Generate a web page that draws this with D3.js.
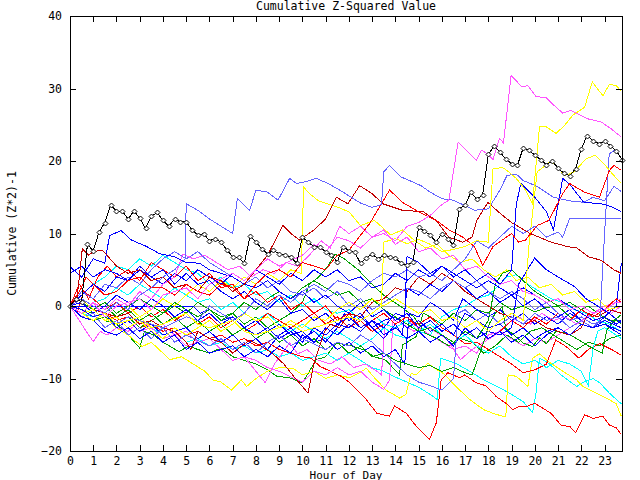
<!DOCTYPE html>
<html>
<head>
<meta charset="utf-8">
<script src="https://cdn.jsdelivr.net/npm/d3@7/dist/d3.min.js"></script>
<style>
  body { margin: 0; background: #fff; }
  text { font-family: "DejaVu Sans Mono", monospace; font-size: 11.5px; fill: #000; }
</style>
</head>
<body>
<div id="chart"></div>
<script>
// hour ticks and value ticks
var hourTicks = [0,1,2,3,4,5,6,7,8,9,10,11,12,13,14,15,16,17,18,19,20,21,22,23];
var valueTicks = [-20,-10,0,10,20,30,40];

// the marked station, one value every 15 minutes from 00:00
var blackValues = [0,1.0,0.6,8.5,7.6,10.2,11.5,13.9,13.1,13.1,12.0,13.1,12.1,10.7,12.4,12.9,
  11.8,11.0,12.0,11.6,11.6,10.5,9.8,10.0,9.0,9.3,8.8,7.7,6.8,6.7,5.9,9.7,
  8.8,7.9,7.2,7.7,7.2,7.0,6.8,5.9,9.5,8.8,8.2,8.1,7.5,7.0,6.1,8.2,
  7.6,7.4,5.9,6.6,7.2,6.5,7.0,6.8,6.6,5.9,5.6,6.1,10.9,10.3,9.8,8.8,
  10.0,9.3,8.4,13.4,13.9,15.7,14.7,15.3,20.9,22.1,21.2,20.3,19.6,19.4,21.8,21.5,
  20.8,20.2,19.5,20.0,19.0,18.3,18.0,18.9,21.7,23.5,22.8,22.4,22.7,22.1,21.4,20.2];

// other stations as [hour, value]
var magentaHigh = [[0,0],[0.5,-1],[1,0.5],[1.5,-1.5],[2,0],[3,1],[3.5,-0.5],[4,1.5],[5,2.5],[5.5,1],[6,3],[7,4.5],[7.5,3.5],[8,5],[8.5,6.5],[9,5.5],[10,7],[10.5,8.5],[11,7.5],[11.5,9.5],[12,9],[12.5,8],[13,9.5],[13.5,10],[14,9],[14.5,11],[15,11.5],[15.5,12.5],[16,14],[16.3,14.6],[16.7,22.6],[17.1,21.3],[17.48,20.1],[17.7,21.5],[17.95,21],[18.2,20.2],[18.48,23.1],[18.65,22.5],[18.81,27],[18.98,31.8],[19.45,30.2],[19.7,30.4],[20.05,28.9],[20.5,28.7],[20.85,27.6],[21.2,26.6],[21.55,27],[21.85,26.5],[22.3,25.8],[22.85,25.4],[23.3,24.4],[23.72,23.3]];
var yellowHigh = [[0,0],[0.5,-1],[1,-2],[1.5,-1],[2,-2.5],[3,-1.5],[3.5,-3],[4,-2.5],[5,-1],[5.5,-2.5],[6,-3],[7,-2],[7.5,-3.5],[8,-4],[9,-3],[9.5,-2.5],[10,-3.5],[11,-2.5],[12,-1.5],[12.5,-2],[13,-1],[13.4,0],[13.5,8.8],[14,9.3],[14.5,8.6],[15,9.2],[15.5,8.5],[16,7.5],[16.5,7.8],[17,8.2],[17.5,9],[18,8.8],[18.2,18.9],[18.6,19.1],[18.8,18.7],[19.2,17.6],[19.6,16],[19.9,14.1],[20.2,24.7],[20.5,24.7],[20.92,23.8],[21.3,25],[21.63,26.3],[22.14,27.4],[22.47,30.9],[22.93,29],[23.21,30.6],[23.5,30.4],[23.72,29.6]];
var redHigh = [[0,0],[0.4,2],[0.7,4],[1,3],[1.5,1.5],[2,2],[2.5,3.5],[3,4],[3.5,2.5],[4,2.5],[4.5,1.5],[5,3],[5.5,2],[6,1.5],[6.5,3],[7,2.5],[7.5,1],[8,3],[8.5,4.5],[9,5],[9.5,4],[10,6],[10.5,5.5],[11,5],[11.5,7],[12,7.7],[12.9,11.4],[13.75,16],[14.3,14.3],[15,13],[15.76,11.8],[16.3,10.5],[16.9,9.5],[17.4,8.2],[17.76,5.6],[18.2,8.2],[18.6,9.1],[19,10],[19.3,8.8],[19.6,9.1],[20.1,11.1],[20.6,11.8],[21.2,15.5],[21.5,16.9],[21.8,16.3],[22.14,15.7],[22.78,15],[23.21,18.7],[23.4,19.4],[23.72,18.7]];
var darkRedHigh = [[0,0],[0.3,1],[0.53,7.9],[0.8,7],[1,7.5],[1.4,7.7],[2,5.5],[2.5,4.5],[3,5],[3.5,3.5],[4,4],[4.5,2.5],[5,3],[5.5,2],[6,4],[6.5,3.5],[7,2],[7.5,3],[8,5],[8.5,7],[9.16,11.1],[9.5,10],[9.88,9.1],[10.5,10.5],[11,12],[11.46,15],[11.96,14.1],[12.46,16.6],[13,15.5],[13.46,14.1],[14.3,13.2],[15.2,13],[15.76,11.8],[16.3,9.5],[16.9,8.8],[17.3,9.5],[17.5,11.8],[17.98,14.3],[18.5,12.8],[19,11.5],[19.8,10],[20.7,8.8],[21.4,8.2],[21.8,8],[22.3,6.8],[22.86,6.3],[23.4,5],[23.72,4.5]];
var lightBlueHigh = [[0,0],[0.5,1],[1,0],[1.5,-1],[2,0.5],[2.5,-0.5],[3,1.5],[3.5,2.5],[4,4],[4.5,5],[4.95,6.5],[5.0,14.1],[5.5,13.2],[6,12],[6.5,11],[7,10],[7.2,14.8],[7.73,13.2],[8,16],[8.5,15.7],[8.95,14.6],[9.45,17.6],[9.74,16.9],[10.2,17.2],[10.6,17.6],[11.1,16.9],[11.6,16],[12,15.2],[12.5,14.2],[13,13.6],[13.4,14],[13.5,18.5],[13.75,19.4],[14.25,17.8],[15.1,16.6],[15.5,15.7],[16,14.8],[16.5,14.6],[17.4,13.2],[18,13.4],[18.5,16],[18.8,18],[19.2,18.2],[19.5,17.3],[20.1,16.5],[20.8,15],[21.5,14.5],[22.1,14.3],[22.5,15],[23,14.5],[23.4,16.5],[23.72,15.8]];
var lightBlueFlat = [[0,0],[0.5,-1],[1,-2],[1.5,-1],[2,-2.5],[2.5,-1.5],[3,-2],[4,-3],[5,-1.5],[5.5,-2],[6,0],[6.5,-1],[7,-2],[7.5,-1],[8,1],[8.5,0],[9,1.5],[9.5,0.5],[10,2],[10.5,3],[11,2],[11.5,3.5],[12,3],[12.5,2],[13,3.5],[13.5,4.5],[14,4],[14.5,5],[15,4],[15.5,4.5],[16,3.5],[16.5,5],[17,6.5],[17.5,9],[18,8],[18.5,9.5],[19,11],[19.5,10],[20,11],[20.5,9.5],[21,10.2],[21.2,9.5],[21.5,12.1],[23.72,12.1]];
var blueEnd13 = [[0,0],[0.5,-1.5],[1,-2],[1.5,-3.5],[2,-4],[2.5,-3],[3,-4.5],[3.5,-3.5],[4,-5],[4.5,-4],[5,-6],[5.5,-5],[6,-6.5],[7,-5.5],[7.5,-7],[8,-6],[8.5,-7],[9,-5.5],[9.5,-6.5],[10,-4],[10.5,-5],[11,-3],[11.5,-4],[12,-2.5],[12.5,-3.5],[13,-2],[13.5,-3],[14,-1],[14.4,-1.5],[14.5,6.8],[15,6],[15.5,4.5],[16,5.5],[16.5,4],[17,5],[17.5,3.5],[18,4.5],[18.5,3],[19,5],[19.2,14],[19.4,16.9],[20,15],[20.5,13],[20.8,10.5],[21,14],[21.2,17.6],[21.5,16.8],[22.1,14.3],[22.86,14.1],[23.3,13.7],[23.72,13]];
var blueEarly = [[0,5.4],[0.5,4],[1,6.5],[1.5,5.9],[1.7,9.7],[2.2,10.4],[2.64,9.1],[3.3,8.2],[3.86,7.2],[4.5,6.8],[5,6],[5.58,5.9],[6,5],[6.5,4.5],[7,4],[7.5,3],[8,2.5],[8.5,3.5],[9,2],[9.5,1],[10,2],[10.5,0.5],[11,1.5],[11.5,0],[12,-1],[12.5,0.5],[13,-1.5],[13.5,-0.5],[14,-2],[14.5,-1],[15,-3],[15.5,-2],[16,-3.5],[16.5,-2.5],[17,-4],[17.5,-3],[18,-4.5],[18.5,-3.5],[19,-5],[19.5,-4],[20,-5.5],[20.5,-4],[21,-3],[21.5,-4],[22,-2.5],[22.5,-3],[23,-2],[23.72,-3]];
var blueStart45 = [[0,4.5],[0.5,5.5],[1,4],[1.5,5],[2,4.5],[2.5,3.5],[3,5.5],[3.5,4],[4,5],[4.5,3],[5,4.5],[5.5,3],[6,3.5],[6.5,2],[7,1],[7.5,2],[8,0.5],[8.5,-0.5],[9,1],[9.5,-1],[10,-0.5],[10.5,-2],[11,-1],[11.5,-2.5],[12,-1.5],[12.5,-3],[13,-2],[13.5,-4],[14,-3],[14.5,-4.5],[15,-3.5],[15.5,-5],[16,-4],[16.5,-5.5],[17,-3],[17.5,-4.5],[18,-3.5],[18.5,-4],[19,-3],[19.3,3],[19.99,6.6],[20.5,5],[21,4],[21.7,2.7],[22.2,1],[22.7,0],[23.2,-1],[23.72,-2.4]];
var lightBlueLate = [[0,0],[0.5,-1.5],[1,-1],[1.5,-3],[2,-2],[2.5,-4],[3,-3],[3.5,-4.5],[4,-3],[4.5,-5],[5,-4],[6,-5.5],[6.5,-4.5],[7,-6],[7.5,-5],[8,-6.5],[8.5,-5],[9,-4],[9.5,-5.5],[10,-4.5],[11,-6],[11.5,-5],[12,-5.5],[12.5,-4],[13,-5],[13.5,-6.5],[14,-8],[14.5,-9.5],[15,-10.5],[15.5,-11],[16,-11.6],[16.5,-10],[16.7,-1],[17,-0.5],[17.5,-2],[18,-1],[18.5,-2.5],[19,-1.5],[19.5,-2.5],[20,-1],[20.5,-2],[21,-1.5],[21.5,-3],[22,-2],[22.5,-3],[22.8,-2],[23.0,10],[23.2,21],[23.45,21.5],[23.72,20.5]];
var blueRiseEnd = [[0,0],[0.5,-0.5],[1,-1.5],[1.5,-1],[2,-3],[2.5,-2],[3,-3.5],[3.5,-2.5],[4,-4],[5,-3],[5.5,-4.5],[6,-3.5],[6.5,-5],[7,-4],[7.5,-5.5],[8,-4.5],[8.5,-6],[9,-4],[9.5,-3],[10,-4.5],[10.5,-3.5],[11,-5],[11.5,-3],[11.8,-1],[12,-2],[12.5,-1],[13,-3],[13.5,-2],[14,-1.5],[14.5,-3],[15,-2],[15.5,-3.5],[16,-2.5],[16.5,-4],[17,-1],[17.5,-2],[18,-3],[18.5,-2.5],[19,-4],[19.5,-3],[20,-4.5],[20.5,-3.5],[21,-3],[21.5,-4],[22,-2.5],[22.5,-3],[23,-1.5],[23.5,0],[23.72,5.9]];
var yellowLate = [[0,0],[0.5,-1],[1,-0.5],[1.5,-2],[2,-1.5],[2.5,-3],[3,-2],[3.5,-3.5],[4,-4.5],[4.5,-3],[5,-4],[5.5,-3],[6,-2],[6.5,-3.5],[7,-2.5],[7.5,-1],[8,-2],[8.5,-1.5],[9,-3],[9.5,-2],[10,-3],[10.5,-1.5],[11,-2],[11.5,-0.5],[12,0.5],[12.5,-0.5],[13,1],[13.5,0],[14,1],[14.5,0],[15,-1],[15.5,-0.5],[16,-2],[16.5,-1.5],[17,-3],[17.5,-2],[18,-3.5],[18.5,-2],[19,-1],[19.5,-2],[19.75,8.5],[20.1,18.5],[20.7,20],[21.3,18],[21.7,18.5],[22.2,20.3],[22.6,20.8],[23,19.5],[23.4,18],[23.72,16.9]];
var yellowMid = [[0,0],[0.5,1],[1,-0.5],[1.5,0.5],[2,-1],[2.5,0],[3,-1.5],[3.5,-0.5],[4,1],[4.5,0],[5,1.5],[5.5,3],[6,2],[6.5,3.5],[7,2.5],[7.5,4],[8,3],[8.5,4.5],[9,3.5],[9.5,5],[9.95,4.5],[10.05,16.4],[10.3,15.5],[10.7,14.5],[11.46,13.7],[12,13],[12.5,11.1],[13.1,11.8],[13.8,9.8],[14.3,10.5],[14.8,9.1],[15.3,8],[15.8,8.5],[16.3,7],[16.8,6],[17.3,6.5],[17.8,5],[18.3,4],[18.8,5],[19.2,3.5],[19.7,4],[20.2,2.5],[20.7,3],[21.2,1.5],[21.7,2],[22.2,0.5],[22.7,1],[23.2,-0.5],[23.72,0]];
var magentaMid = [[0,0],[0.5,-1],[1,0.5],[1.5,-0.5],[2,1],[2.5,0],[3,2],[3.5,1],[4,3],[4.5,4],[4.86,7.2],[5.3,6.5],[5.8,7],[6.3,6],[6.8,5],[7.3,5.5],[7.8,4],[8.3,5],[8.8,4.5],[9.3,6],[9.8,5.5],[10.3,7],[10.8,9],[11.2,8],[11.6,11],[12,10],[12.5,11],[13,9.5],[13.5,10.5],[14,8.5],[14.5,9.5],[15,7.5],[15.5,8],[16,6.5],[16.5,7],[17,5],[17.5,5.5],[18,4],[18.5,3],[19,3.5],[19.5,2],[20,1.5],[20.5,0.5],[21,1],[21.5,-0.5],[22,0],[22.5,-1],[23,-0.5],[23.5,0.5],[23.72,0.4]];
var redLow = [[0,0],[0.5,-0.5],[1,-1.5],[1.5,-1],[2,-2],[2.5,-1.5],[3,-3],[3.5,-2.5],[4,-3.5],[4.5,-3],[5,-4],[5.5,-3.5],[6,-4.5],[6.5,-4],[7,-5],[7.5,-4.5],[8,-5.5],[8.5,-5],[9,-6],[9.5,-6.5],[10,-7],[10.38,-7.2],[10.74,-8.3],[11.2,-9],[11.67,-9.7],[12.04,-10.6],[12.75,-12.9],[13.2,-14.8],[13.75,-15.2],[13.97,-13.8],[14.47,-14.8],[14.9,-16.6],[15.47,-18.4],[15.76,-16.1],[15.97,-10.2],[16.26,-9.2],[16.76,-9.9],[16.98,-9.5],[17.48,-10.6],[17.9,-11],[18.34,-12.5],[18.84,-13.6],[19.05,-14.3],[19.34,-13.8],[19.63,-13.9],[19.99,-13.4],[20.34,-14.1],[20.7,-14.8],[21.14,-16.5],[21.5,-16.6],[21.76,-17.5],[22.14,-15],[22.5,-15.5],[22.93,-15.2],[23.2,-16.4],[23.5,-16.8],[23.72,-17.7]];
var yellowLow = [[0,0],[0.5,-1],[1,-2],[1.5,-1.5],[2,-3],[2.5,-4],[3.1,-5.6],[3.5,-5],[4,-6.5],[4.3,-7.4],[4.8,-7],[5.3,-8],[5.8,-9],[6.15,-10.2],[6.5,-10.5],[6.95,-11.6],[7.37,-10.2],[7.6,-11.1],[8,-10],[8.5,-9],[9,-8.5],[9.6,-8.6],[10,-9.5],[10.5,-9],[11,-10],[11.5,-9.5],[12.04,-9.9],[12.4,-9.3],[12.75,-8.6],[13.1,-9.9],[13.6,-11.6],[14.18,-12.7],[14.45,-12.2],[14.68,-9.3],[14.9,-9.5],[15.4,-7.9],[15.7,-8.6],[16.1,-9.4],[16.6,-11.1],[17.2,-12.9],[17.8,-14.3],[18.2,-14.8],[18.6,-15.2],[18.75,-15.3],[18.85,-9.5],[19.2,-9.7],[19.7,-11.1],[19.9,-7.2],[20.2,-6.6],[20.6,-7.7],[21.2,-9],[21.8,-10.2],[22.07,-11.1],[22.64,-12],[23.2,-12.9],[23.5,-13.5],[23.72,-15.2]];
var cyanLow = [[0,0],[0.5,-1],[1,-1.5],[1.5,-1],[2,-2.5],[2.5,-2],[3,-3.5],[3.5,-3],[4,-4],[4.5,-3.5],[5,-5],[5.5,-4.5],[6,-5.5],[6.5,-5],[7,-6],[7.5,-5.5],[8,-6.5],[8.5,-6],[9,-7],[9.5,-6.5],[10,-7.5],[10.5,-7],[11,-6.5],[11.5,-7.5],[12,-6.5],[12.5,-7.5],[13,-8.5],[13.5,-9],[14,-9.8],[14.5,-10.5],[15,-11.2],[15.5,-12.2],[15.8,-12.9],[15.95,-7.2],[16.6,-7.9],[17.2,-9],[17.8,-10.2],[18.5,-11.3],[18.9,-12],[19.5,-13.2],[19.9,-14.7],[20.05,-12],[20.2,-7.2],[20.6,-7.9],[21.2,-9.7],[21.8,-11.1],[22.1,-10.5],[22.5,-10],[22.8,-10.6],[23.2,-12],[23.72,-13.5]];
var redEnd7 = [[0,0],[0.3,-1],[0.6,2],[1,1],[1.5,-0.5],[2,0.5],[2.5,-1],[3,0],[3.5,-1.5],[4,-0.5],[4.5,-2],[5,-1],[5.5,-2.5],[6,-1.5],[6.5,-3],[7,-2],[7.5,-3.5],[8,-2.5],[8.5,-1],[9,-2],[9.5,-3],[10,-2],[10.5,-1],[11,-2.5],[11.5,-1.5],[12,-3],[12.5,-2],[13,-3.5],[13.5,-2.5],[14,-3],[14.5,-2],[15,-2.5],[15.5,-1.5],[16,-3],[16.5,-4],[17,-5.2],[17.5,-5],[18,-6],[18.5,-7],[19,-8],[19.5,-9.2],[20,-8.8],[20.5,-8],[20.9,-4.7],[21.35,-5.6],[21.9,-7.2],[22.3,-6],[22.8,-5.2],[23.3,-6],[23.72,-6.8]];
var greenLate = [[0,0],[0.5,-0.5],[1,-1],[1.5,0],[2,-1.5],[2.5,-0.5],[3,-2],[3.5,-1],[4,-2.5],[4.5,-1.5],[5,-3],[5.5,-2],[6,-3.5],[6.5,-2.5],[7,-4],[7.5,-3],[8,-4.5],[8.5,-3.5],[9,-5],[9.5,-4],[10,-5.5],[10.5,-4.5],[11,-6],[11.5,-5],[12,-6.5],[12.5,-5.5],[13,-7],[13.5,-6.5],[14,-7.5],[14.5,-8],[15,-8.5],[15.5,-8.2],[16,-9],[16.5,-8.5],[17,-9.2],[17.3,-9.5],[17.8,-5],[18.05,-2.4],[18.3,-1],[18.6,-0.1],[18.75,-3.1],[19.1,-4],[19.5,-5.1],[19.9,-5.6],[20.2,-4.4],[20.5,-5.2],[20.9,-3.5],[21.4,-3.8],[21.8,-4.5],[22.3,-5.5],[22.9,-6.5],[23.1,-3.3],[23.4,-2],[23.72,-1.2]];
var greenLow = [[0,0],[0.5,-1],[1,-0.5],[1.5,-2],[2,-2.5],[2.5,-4],[3,-5.8],[3.2,-3.5],[3.6,-4],[4,-5],[4.7,-6.3],[5.1,-5.5],[5.5,-6],[6,-6.5],[6.5,-5.8],[7,-7],[7.5,-7.5],[8,-8],[8.5,-8.8],[8.9,-9.7],[9.45,-9.9],[10,-10.6],[10.6,-7.4],[11,-7],[11.46,-5.1],[12,-5.4],[12.6,-6],[13.1,-7],[13.6,-7.5],[14.18,-9.5],[14.3,-5.4],[14.9,-4.2],[15.2,-1],[15.5,-1.5],[16,-2.5],[16.5,-1],[17,-2],[17.5,-0.5],[18,-1],[18.5,0.5],[19,-0.5],[19.5,0],[20,-0.8],[20.5,-0.2],[21,0],[21.5,-1.5],[22,-2.5],[22.5,-3],[23,-2.5],[23.5,-2],[23.72,-2.5]];
var cyanEarly = [[0,0],[0.5,1.5],[1,3],[1.5,4],[2,5.5],[2.5,5],[3,6.5],[3.5,5.5],[4,7],[4.5,6],[5,5],[5.5,4.5],[6,3],[6.5,4],[7,2.5],[7.5,3],[8,1.5],[8.5,2],[9,0.5],[9.5,1.5],[10,0],[10.5,1],[11,-0.5],[11.5,-1],[12,-0.5],[12.5,-2],[13,-1],[13.5,-2.5],[14,-3],[14.5,-2],[15,-3.5],[15.5,-2.5],[16,-4],[16.5,-5],[17,-4],[17.5,-5.5],[18,-6.5],[18.5,-5.5],[19,-7],[19.5,-8],[20,-7.5],[20.5,-8.5],[21,-7.5],[21.5,-8],[22,-9],[22.3,-11],[22.5,-6],[22.7,-3.5],[23,-3],[23.5,-4],[23.72,-4.5]];
var cyanMid = [[0,0],[0.5,-1],[1,0.5],[1.5,1],[2,2.5],[2.5,1.5],[3,3],[3.5,2],[4,1],[4.5,2.5],[5,1.5],[5.5,0.5],[6,1],[6.5,-0.5],[7,0.5],[7.5,-1],[8,-2],[8.5,-1],[9,-2.5],[9.5,-3.5],[10,-2.5],[10.5,-3.5],[11,-4.5],[11.5,-3.5],[12,-4.5],[12.5,-5.5],[13,-4.5],[13.5,-3],[14,-4],[14.5,-4.5],[15,-3.5],[15.5,-4],[16,-1.5],[16.5,-0.5],[17,0],[17.5,1],[18,1.5],[18.5,3],[18.8,4],[19.2,4.3],[19.7,3],[20.2,2],[20.7,1],[21.2,0.5],[21.7,-0.5],[22.2,-1],[22.7,-2],[23.2,-2.5],[23.72,-3.5]];
var magentaLow = [[0,0],[0.3,-1.5],[0.7,-3.5],[1,-4.9],[1.3,-3.5],[1.6,-4],[2,-3],[2.5,-3.5],[3,-2],[3.5,-3],[4,-2.5],[4.5,-4],[5,-3.5],[5.5,-5],[6,-4.5],[6.5,-6],[7,-5.5],[7.5,-7],[8,-7.5],[8.5,-8.5],[9,-9],[9.5,-9.8],[10,-10.5],[10.5,-9],[11,-9.5],[11.5,-8.5],[12,-9.5],[12.5,-9],[13,-10.5],[13.5,-11.5],[13.75,-10.2],[13.9,-1.9],[14.3,-2.5],[14.8,-3.5],[15.2,-2.5],[15.7,-3.5],[16.2,-4.5],[16.8,-7.4],[17.3,-6],[17.8,-5],[18.3,-4],[18.8,-2.5],[19.3,-1.5],[19.8,-2.5],[20.3,-1],[20.8,-2],[21.3,-1.5],[21.8,-2.5],[22.3,-1.5],[22.8,-0.5],[23.3,-1],[23.72,0]];
var magentaLow2 = [[0,0],[0.5,-0.5],[1,-1.5],[1.5,-1],[2,-2.5],[2.5,-2],[3,-3.5],[3.5,-3],[4,-4.5],[4.5,-4],[5,-5.5],[5.5,-5],[6,-6.5],[6.5,-6],[7,-7.5],[7.5,-7],[8,-9],[8.4,-10.6],[8.8,-8],[9.45,-5.1],[9.8,-6.6],[10.2,-6],[10.7,-7.5],[11.2,-8],[11.7,-7],[12.2,-8.5],[12.7,-8],[13.2,-9],[13.4,-9.5],[13.55,-2.5],[14,-3],[14.5,-2],[15,-3],[15.5,-4],[16,-5],[16.5,-6],[17,-5.5],[17.5,-6.5],[18,-4],[18.5,-3.5],[19,-4.5],[19.5,-5.5],[20,-4.5],[20.5,-5],[21,-4],[21.5,-3],[22,-2],[22.5,-1],[23,0],[23.5,0.5],[23.72,1]];
var blueFlatStart = [[0,0],[5.3,0],[5.6,-1],[6,-0.5],[6.5,-2],[7,-1.5],[7.5,-3],[8,-2],[8.5,-3.5],[9,-2.5],[9.5,-4],[10,-3.5],[10.5,-5],[11,-4.5],[11.5,-6],[12,-5],[12.5,-6.5],[13,-5.5],[13.5,-7],[14,-6],[14.4,-8],[14.6,-1],[15,-1.5],[15.5,0.5],[16,-0.5],[16.5,-2],[16.9,1],[17.5,-0.5],[18,-1.5],[18.5,-0.5],[19,-2],[19.5,-1],[20,-2.5],[20.5,-1.5],[21,-2.5],[21.5,-1],[22,-2],[22.5,-3],[23,-2.5],[23.72,-4]];
var darkRedMid = [[0,0],[0.5,1],[1,-0.5],[1.5,-1],[2,-1.5],[2.5,-1],[3,-2.5],[3.5,-2],[4,-3],[4.5,-3.5],[5,-5],[5.2,-6],[5.5,-3.5],[6,-4.5],[6.5,-5],[7,-6.5],[7.4,-5.5],[7.73,-4.7],[8.2,-5.5],[8.7,-6.5],[9.2,-8],[9.7,-10],[10.24,-12],[10.5,-7.9],[10.95,-3.5],[11.2,-2.5],[11.6,-3],[12,-1],[12.5,-1.5],[13,0.5],[13.5,1],[14,2.5],[14.5,2],[15,4],[15.5,3],[16,4.5],[16.5,3.5],[17,2],[17.5,1],[18,0],[18.5,-1],[19,-1.5],[19.5,-2.5],[20,-2],[20.5,-3],[21,-3.5],[21.5,-4],[22,-3],[22.3,-1],[22.7,-1.5],[23.2,-0.5],[23.72,-1]];
var redMid = [[0,0],[0.4,3],[0.8,1],[1.2,4],[1.6,5.5],[2,4],[2.5,5],[3,3.5],[3.5,6],[4,5],[4.5,4],[5,5.5],[5.5,3.5],[6,4.5],[6.5,2.5],[7,3],[7.5,1],[8,2],[8.5,0.5],[9,1.5],[9.5,-0.5],[10,0.5],[10.5,-1],[11,0],[11.5,-2],[12,-1],[12.5,-3],[13,-2],[13.5,-1],[14,-2.5],[14.5,-1.5],[15,-3],[15.5,-2],[16,-3.5],[16.5,-2.5],[17,-4],[17.5,-3],[18,-4.5],[18.5,-3.5],[19,-2],[19.5,-3],[20,-1.5],[20.5,-2.5],[21,-1],[21.5,-2],[22,-0.5],[22.5,-1.5],[23,-0.5],[23.5,1],[23.72,0.5]];
var greenMid = [[0,0],[0.5,-1],[1,-2],[1.5,-1.5],[2,-2.5],[2.5,-1.5],[3,-3],[3.5,-2],[4,-1],[4.5,0],[5,-1],[5.5,0.5],[6,-0.5],[6.5,-1.5],[7,-1],[7.5,-2.5],[8,-1.5],[8.5,-3],[9,-2],[9.5,-1],[10,0.5],[10.3,3],[10.7,4],[11.1,5.5],[11.4,7.2],[11.8,6.5],[12.4,5],[12.96,3.1],[13.5,1.5],[14.25,-0.1],[14.8,-1.5],[15.3,-3.8],[15.8,-4.5],[16.3,-5.5],[16.8,-4.5],[17.3,-5],[17.8,-6.5],[18.3,-5.5],[18.8,-4],[19.3,-5],[19.8,-3.5],[20.3,-3],[20.8,-4],[21.3,-5],[21.8,-6],[22.3,-5],[22.8,-5.5],[23.2,-4.5],[23.72,-4]];
var greenUpper = [[0,0],[0.5,0.5],[1,-0.5],[1.5,0.5],[2,-1],[2.5,0],[3,1],[3.5,0],[4,-1],[4.5,0.5],[5,-0.5],[5.5,-1.5],[6,-0.5],[6.5,-2],[7,-1],[7.5,0.5],[8,-0.5],[8.5,1],[9,2],[9.5,1],[10,2.5],[10.5,3.5],[11,2.5],[11.5,1.5],[12,2],[12.5,0.5],[13,1],[13.5,-0.5],[14,-1.5],[14.5,-2.5],[15,-3.5],[15.5,-3],[16,-4],[16.5,-5],[17,-3.5],[17.5,-4.5],[18,-2],[18.3,3],[18.6,4.5],[19,5],[19.5,3.5],[20,2],[20.5,1],[21,0],[21.5,0.5],[22,-0.5],[22.3,0],[22.7,-1],[23.2,-2],[23.72,-2]];
var blueMid = [[0,0],[0.5,0.5],[1,-1],[1.5,0],[2,1.5],[2.5,0.5],[3,-0.5],[3.5,1],[4,0],[4.5,-1.5],[5,-0.5],[5.5,-2],[6,-1],[6.5,-2.5],[7,-1.5],[7.5,-3],[8,-4],[8.5,-3],[9,-4.5],[9.5,-3.5],[10,-5],[10.5,-3],[11,-4],[11.5,-2.5],[12,-3],[12.5,-1.5],[13,-3],[13.5,-4.5],[14,-2.5],[14.3,-4],[14.5,2.5],[15,1.5],[15.5,3],[16,2],[16.5,3.5],[17,2.5],[17.5,1],[18,2],[18.5,0.5],[19,1.5],[19.5,0],[20,1],[20.5,-0.5],[21,-1.5],[21.5,-0.5],[22,-2],[22.5,-3],[23,-2.5],[23.72,-3.5]];
var blueUpperMid = [[0,0],[0.5,1.5],[1,3],[1.5,2],[2,4],[2.5,3.5],[3,5],[3.5,4],[4,3],[4.5,4.5],[5,3.5],[5.5,5],[6,4],[6.5,3],[7,4.5],[7.5,3.5],[8,5],[8.5,4],[9,3],[9.5,4.5],[10,3.5],[10.5,5],[11,4],[11.5,5],[12,3.5],[12.5,4],[13,2.5],[13.5,3],[14,4.5],[14.5,3.5],[15,5],[15.5,4],[16,5.5],[16.5,4.5],[17,3.5],[17.5,2.5],[18,3.5],[18.5,2.5],[19,1.5],[19.5,2.5],[20,1.5],[20.5,0.5],[21,1],[21.5,0],[22,-1],[22.5,-2],[23,-1.5],[23.5,-2.5],[23.72,-2]];
var lightBlueEarly = [[0,0],[0.5,2],[1,1],[1.5,3],[2,2.5],[2.5,4],[3,3],[3.5,5],[4,6.5],[4.5,7.5],[5,6.5],[5.5,7.5],[6,6],[6.5,5],[7,4],[7.5,3],[8,4],[8.5,2.5],[9,3.5],[9.5,2],[10,1.5],[10.5,2.5],[11,1],[11.5,2],[12,0],[12.5,1],[13,-0.5],[13.5,0.5],[14,1.5],[14.5,2.5],[15,2],[15.5,1],[16,2.5],[16.5,3.5],[17,2.5],[17.5,3.5],[18,2],[18.5,1],[19,2],[19.5,1],[20,-0.5],[20.5,0.5],[21,-1],[21.5,-2],[22,-1.5],[22.5,-2.5],[23,-2],[23.72,-3]];

var stations = [greenLow, cyanLow, yellowLow, redLow, magentaLow2, cyanMid, greenMid, magentaLow, redEnd7,
  blueFlatStart, cyanEarly, greenLate, blueRiseEnd, darkRedMid, yellowMid, greenUpper, blueMid, redMid,
  lightBlueEarly, blueUpperMid, magentaMid, blueStart45, lightBlueLate, blueEarly, yellowLate, lightBlueFlat,
  darkRedHigh, blueEnd13, redHigh, lightBlueHigh, yellowHigh, magentaHigh];
var stationColors = ["#00a000", "#00ffff", "#ffff00", "#ff0000", "#ff55ff", "#00ffff", "#00a000", "#ff55ff", "#ff0000",
  "#0000ff", "#00ffff", "#00a000", "#0000ff", "#c00000", "#ffff00", "#00a000", "#0000ff", "#ff0000",
  "#6464ff", "#0000ff", "#ff55ff", "#0000ff", "#6464ff", "#0000ff", "#ffff00", "#6464ff",
  "#c00000", "#0000ff", "#ff0000", "#6464ff", "#ffff00", "#ff55ff"];

var width = 640, height = 480;
var margin = { top: 16, right: 18, bottom: 29, left: 70 };

var svg = d3.select("#chart")
  .append("svg")
  .attr("width", width)
  .attr("height", height);

var xScale = d3.scaleLinear()
  .domain([0, 23.75])
  .range([margin.left, width - margin.right]);

var yScale = d3.scaleLinear()
  .domain([-20, 40])
  .range([height - margin.bottom, margin.top]);

// zero line
svg.append("line")
  .attr("x1", xScale(0)).attr("x2", xScale(23.75))
  .attr("y1", Math.round(yScale(0)) + 0.5).attr("y2", Math.round(yScale(0)) + 0.5)
  .attr("stroke", "#a0a0a0")
  .attr("shape-rendering", "crispEdges");

var line = d3.line()
  .x(function (d) { return xScale(d[0]); })
  .y(function (d) { return yScale(d[1]); });

svg.selectAll("path.station")
  .data(stations)
  .enter()
  .append("path")
  .attr("class", "station")
  .attr("d", line)
  .attr("fill", "none")
  .attr("stroke", function (d, i) { return stationColors[i]; })
  .attr("stroke-width", 1)
  .attr("shape-rendering", "crispEdges");

// marked station with diamonds
var blackData = blackValues.map(function (v, i) { return [i * 0.25, v]; });
svg.append("path")
  .datum(blackData)
  .attr("d", line)
  .attr("fill", "none")
  .attr("stroke", "#000")
  .attr("shape-rendering", "crispEdges");

svg.selectAll("path.diamond")
  .data(blackData)
  .enter()
  .append("path")
  .attr("class", "diamond")
  .attr("d", "M0,-2.5L2.5,0L0,2.5L-2.5,0Z")
  .attr("transform", function (d) {
    return "translate(" + (Math.round(xScale(d[0])) + 0.5) + "," + (Math.round(yScale(d[1])) + 0.5) + ")";
  })
  .attr("fill", "#fff")
  .attr("stroke", "#000")
  .attr("stroke-width", 1);

//axes, ticks point inward
var xAxis = d3.axisBottom(xScale).tickValues(hourTicks).tickSizeInner(-6).tickSizeOuter(0).tickPadding(6);
var xAxisTop = d3.axisTop(xScale).tickValues(hourTicks).tickSizeInner(-6).tickSizeOuter(0).tickFormat("");
var yAxis = d3.axisLeft(yScale).tickValues(valueTicks).tickSizeInner(-6).tickSizeOuter(0).tickPadding(8);
var yAxisRight = d3.axisRight(yScale).tickValues(valueTicks).tickSizeInner(-6).tickSizeOuter(0).tickFormat("");

function styleAxis(g) {
  g.select(".domain").remove();
  g.selectAll("line").attr("stroke", "#000").attr("shape-rendering", "crispEdges");
  g.selectAll("text").attr("font-family", "DejaVu Sans Mono").attr("font-size", "11px").attr("fill", "#000");
}

svg.append("g").attr("transform", "translate(0," + (height - margin.bottom) + ")").call(xAxis).call(styleAxis);
svg.append("g").attr("transform", "translate(0," + margin.top + ")").call(xAxisTop).call(styleAxis);
svg.append("g").attr("transform", "translate(" + margin.left + ",0)").call(yAxis).call(styleAxis);
svg.append("g").attr("transform", "translate(" + (width - margin.right) + ",0)").call(yAxisRight).call(styleAxis);

// frame
svg.append("rect")
  .attr("x", margin.left + 0.5)
  .attr("y", margin.top + 0.5)
  .attr("width", width - margin.left - margin.right)
  .attr("height", height - margin.top - margin.bottom)
  .attr("fill", "none")
  .attr("stroke", "#000")
  .attr("shape-rendering", "crispEdges");

svg.append("text")
  .attr("x", (margin.left + width - margin.right) / 2)
  .attr("y", 10)
  .attr("text-anchor", "middle")
  .text("Cumulative Z-Squared Value");

svg.append("text")
  .attr("x", (margin.left + width - margin.right) / 2)
  .attr("y", 478.5)
  .attr("text-anchor", "middle")
  .style("font-size", "11px")
  .text("Hour of Day");

svg.append("text")
  .attr("transform", "translate(16," + ((margin.top + height - margin.bottom) / 2) + ") rotate(-90)")
  .attr("text-anchor", "middle")
  .text("Cumulative (Z*2)-1");
</script>
</body>
</html>
